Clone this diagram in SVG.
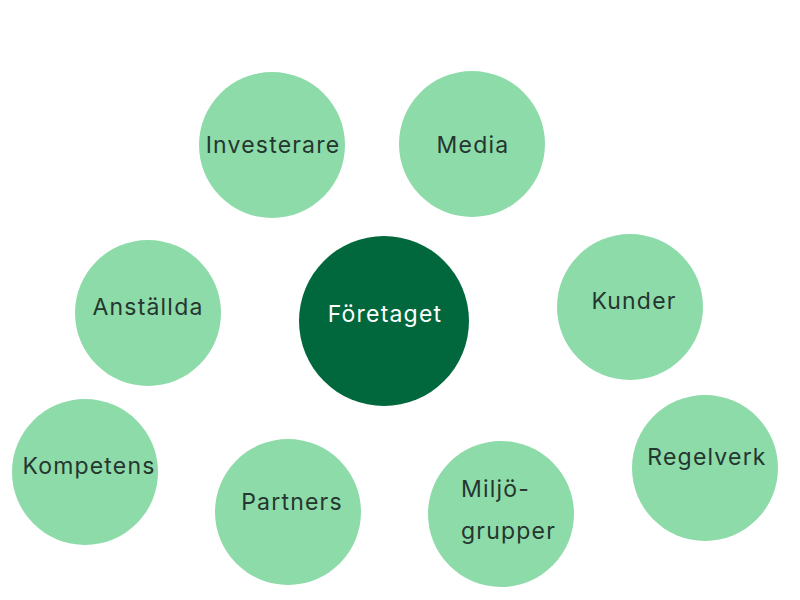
<svg xmlns="http://www.w3.org/2000/svg" width="800" height="600" viewBox="0 0 800 600">
<style>
.n{fill:#8DDBA9}
.c{fill:#01673C}
text{font-family:"Inter","Noto Sans",sans-serif;font-size:23px;letter-spacing:1.2px;fill:#24362F;dominant-baseline:central}
.m{text-anchor:middle}
.w{fill:#FFFFFF}
</style>
<rect width="800" height="600" fill="#FFFFFF"/>
<g id="connectors"></g>
<g id="investerare"><circle class="n" cx="272" cy="145" r="73"/><text class="m" x="273" y="145">Investerare</text></g>
<g id="media"><circle class="n" cx="472" cy="144" r="73"/><text class="m" x="473" y="145">Media</text></g>
<g id="anstallda"><circle class="n" cx="148" cy="313" r="73"/><text class="m" x="148" y="307">Anställda</text></g>
<g id="foretaget"><circle class="c" cx="384" cy="321" r="85"/><text class="m w" x="385" y="314">Företaget</text></g>
<g id="kunder"><circle class="n" cx="630" cy="307" r="73"/><text class="m" x="634" y="301">Kunder</text></g>
<g id="kompetens"><circle class="n" cx="85" cy="472" r="73"/><text class="m" x="89" y="466">Kompetens</text></g>
<g id="partners"><circle class="n" cx="288" cy="512" r="73"/><text class="m" x="292" y="502">Partners</text></g>
<g id="miljogrupper"><circle class="n" cx="501" cy="514" r="73"/><text x="461" y="489">Miljö-</text><text x="461" y="531">grupper</text></g>
<g id="regelverk"><circle class="n" cx="705" cy="468" r="73"/><text class="m" x="707" y="457">Regelverk</text></g>
</svg>
